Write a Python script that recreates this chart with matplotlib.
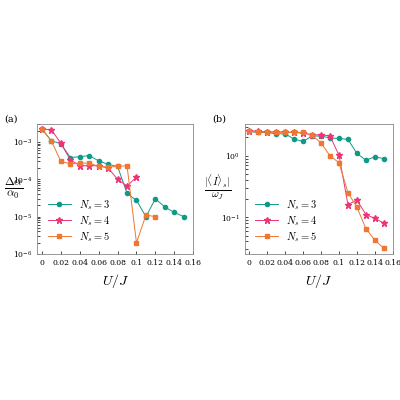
import matplotlib
matplotlib.use("Agg")
import matplotlib.pyplot as plt
import numpy as np

plt.rcParams['mathtext.fontset'] = 'cm'
plt.rcParams['font.family'] = 'serif'
plt.rcParams['font.serif'] = ['DejaVu Serif']

U = [0, 0.01, 0.02, 0.03, 0.04, 0.05, 0.06, 0.07, 0.08, 0.09, 0.10, 0.11, 0.12, 0.13, 0.14, 0.15]

a3 = [2.2e-3, 1.06e-3, 9e-4, 3.8e-4, 4e-4, 4.3e-4, 3.1e-4, 2.5e-4, 2.2e-4, 4.2e-5, 2.7e-5, 1.0e-5, 3e-5, 1.8e-5, 1.3e-5, 1e-5]
a4 = [2.2e-3, 2.1e-3, 9.2e-4, 3.3e-4, 2.3e-4, 2.3e-4, 2.3e-4, 2e-4, 1e-4, 6.6e-5, 1.13e-4]
a5 = [2.2e-3, 1.06e-3, 3e-4, 2.6e-4, 2.7e-4, 2.7e-4, 2.2e-4, 2.1e-4, 2.2e-4, 2.3e-4, 2.0e-6, 1.1e-5, 1.0e-5]

b3 = [2.5, 2.4, 2.4, 2.28, 2.28, 1.87, 1.72, 2.1, 2.1, 1.95, 1.92, 1.85, 1.09, 0.85, 0.96, 0.9]
b4 = [2.58, 2.5, 2.45, 2.45, 2.45, 2.4, 2.34, 2.2, 2.2, 2.1, 1.02, 0.16, 0.19, 0.11, 0.095, 0.08]
b5 = [2.5, 2.45, 2.4, 2.45, 2.4, 2.4, 2.4, 2.17, 1.62, 1.0, 0.77, 0.25, 0.145, 0.065, 0.042, 0.031]

colors = ['#119988', '#ee3377', '#ee7733']
markers = ['o', '*', 's']
labels = [r'$N_s = 3$', r'$N_s = 4$', r'$N_s = 5$']

fig = plt.figure(figsize=(4, 4), dpi=100)
ax1 = fig.add_axes([0.093, 0.365, 0.39, 0.325])
ax2 = fig.add_axes([0.612, 0.365, 0.37, 0.325])

for ax, series in ((ax1, (a3, a4, a5)), (ax2, (b3, b4, b5))):
    for s, c, m, l in zip(series, colors, markers, labels):
        ax.plot(U[:len(s)], s, color=c, marker=m, ms=3 if m != '*' else 4.5, lw=0.7, label=l)
    ax.set_yscale('log')
    ax.set_xlim(-0.005, 0.16)
    ax.set_xticks([0, 0.02, 0.04, 0.06, 0.08, 0.1, 0.12, 0.14, 0.16])
    ax.set_xticklabels(['0', '0.02', '0.04', '0.06', '0.08', '0.1', '0.12', '0.14', '0.16'])
    ax.tick_params(labelsize=5.5, length=2, width=0.5, which='both', direction='in')
    for sp in ax.spines.values():
        sp.set_color('#888888'); sp.set_linewidth(0.6)
    ax.set_xlabel(r'$U/J$', fontsize=10)
    ax.legend(loc='lower left', frameon=False, fontsize=7.5, handlelength=2.2, labelspacing=0.2, borderaxespad=0.6)

ax1.set_ylim(1e-6, 3e-3)
ax2.set_ylim(0.025, 3.3)
fig.text(0.035, 0.53, r'$\frac{\Delta\alpha}{\alpha_0}$', fontsize=12, ha='center', va='center')
fig.text(0.545, 0.53, r'$\frac{|\langle I\rangle_s|}{\omega_J}$', fontsize=11, ha='center', va='center')
fig.text(0.01, 0.695, '(a)', fontsize=7)
fig.text(0.53, 0.695, '(b)', fontsize=7)
fig.savefig('out.png', dpi=100)
